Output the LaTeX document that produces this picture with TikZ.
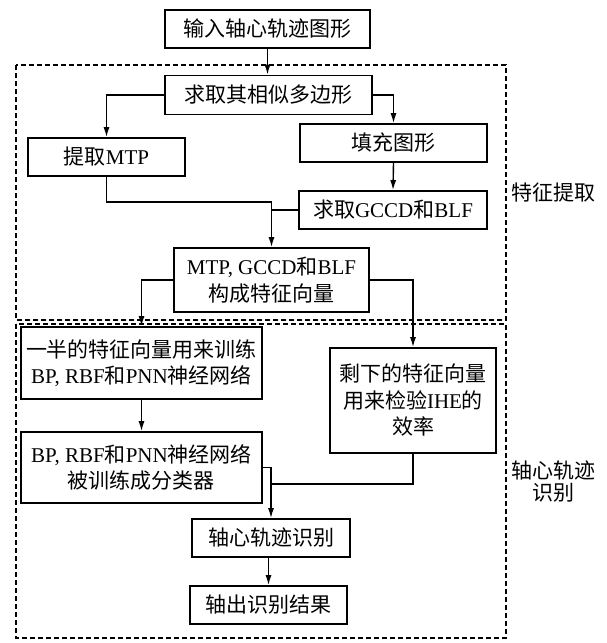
\documentclass[tikz,border=0pt]{standalone}
\usepackage{fontspec}
\setmainfont{Liberation Serif}
\newfontfamily\cjk{Noto Sans CJK SC}
\usetikzlibrary{arrows.meta}
\begin{document}
\begin{tikzpicture}[x=1pt,y=-1pt,
  box/.style={draw,line width=1.7pt,inner sep=0pt,align=center,font=\fontsize{21}{26.5}\selectfont},
  arr/.style={line width=1.4pt,-{Latex[length=10pt,width=6pt]}},
  ln/.style={line width=1.4pt},
  group/.style={draw,line width=1.3pt,dash pattern=on 5pt off 3pt},
  lab/.style={align=center,font=\fontsize{21}{22}\selectfont}]
\useasboundingbox (0,0) rectangle (607,643);
\draw[group] (16,65) rectangle (506,320);
\draw[group] (16,324) rectangle (506,638);
\node[box,minimum width=205pt,minimum height=38pt] (n1) at (267.5,29) {\cjk 输入轴心轨迹图形};
\node[box,minimum width=207pt,minimum height=39pt] (n2) at (268.5,95) {\cjk 求取其相似多边形};
\node[box,minimum width=157pt,minimum height=38pt] (n3) at (106.5,157) {{\cjk 提取}MTP};
\node[box,minimum width=187pt,minimum height=38pt] (n4) at (393.5,143) {\cjk 填充图形};
\node[box,minimum width=188pt,minimum height=38pt] (n5) at (393,210) {{\cjk 求取}GCCD{\cjk 和}BLF};
\node[box,minimum width=195pt,minimum height=64pt] (n6) at (271.5,280) {MTP, GCCD{\cjk 和}BLF\\{\cjk 构成特征向量}};
\node[box,minimum width=241pt,minimum height=72pt] (n7) at (141.5,363) {{\cjk 一半的特征向量用来训练}\\BP, RBF{\cjk 和}PNN{\cjk 神经网络}};
\node[box,minimum width=166pt,minimum height=105pt] (n8) at (413,400.5) {{\cjk 剩下的特征向量}\\{\cjk 用来检验}IHE{\cjk 的}\\{\cjk 效率}};
\node[box,minimum width=241pt,minimum height=71pt] (n9) at (141.5,467.5) {BP, RBF{\cjk 和}PNN{\cjk 神经网络}\\{\cjk 被训练成分类器}};
\node[box,minimum width=158pt,minimum height=38pt] (n10) at (271,538) {\cjk 轴心轨迹识别};
\node[box,minimum width=157pt,minimum height=38pt] (n11) at (268.5,605) {\cjk 轴出识别结果};
\node[lab] (l1) at (553,193) {\cjk 特征提取};
\node[lab] (l2) at (553,482) {\cjk 轴心轨迹\\\cjk 识别};
\coordinate (j1) at (271.5,202);
\coordinate (j2) at (413,484);
\draw[arr] (n1.south) -- (n1.south |- n2.north);
\draw[arr] (n2.west) -| (n3.north);
\draw[arr] (n2.east) -| (n4.north);
\draw[arr] (n4.south) -- (n5.north);
\draw[ln] (n3.south) |- (j1);
\draw[ln] (n5.west) -- (j1 |- n5.west);
\draw[arr] (j1) -- (n6.north);
\draw[arr] (n6.west) -| (n7.north);
\draw[arr] (n6.east) -| (n8.north);
\draw[arr] (n7.south) -- (n9.north);
\draw[arr] (n9.east) -| (n10.north);
\draw[ln] (n8.south) -- (j2) -- (n10.north |- j2);
\draw[arr] (n11.north |- n10.south) -- (n11.north);
\end{tikzpicture}
\end{document}
